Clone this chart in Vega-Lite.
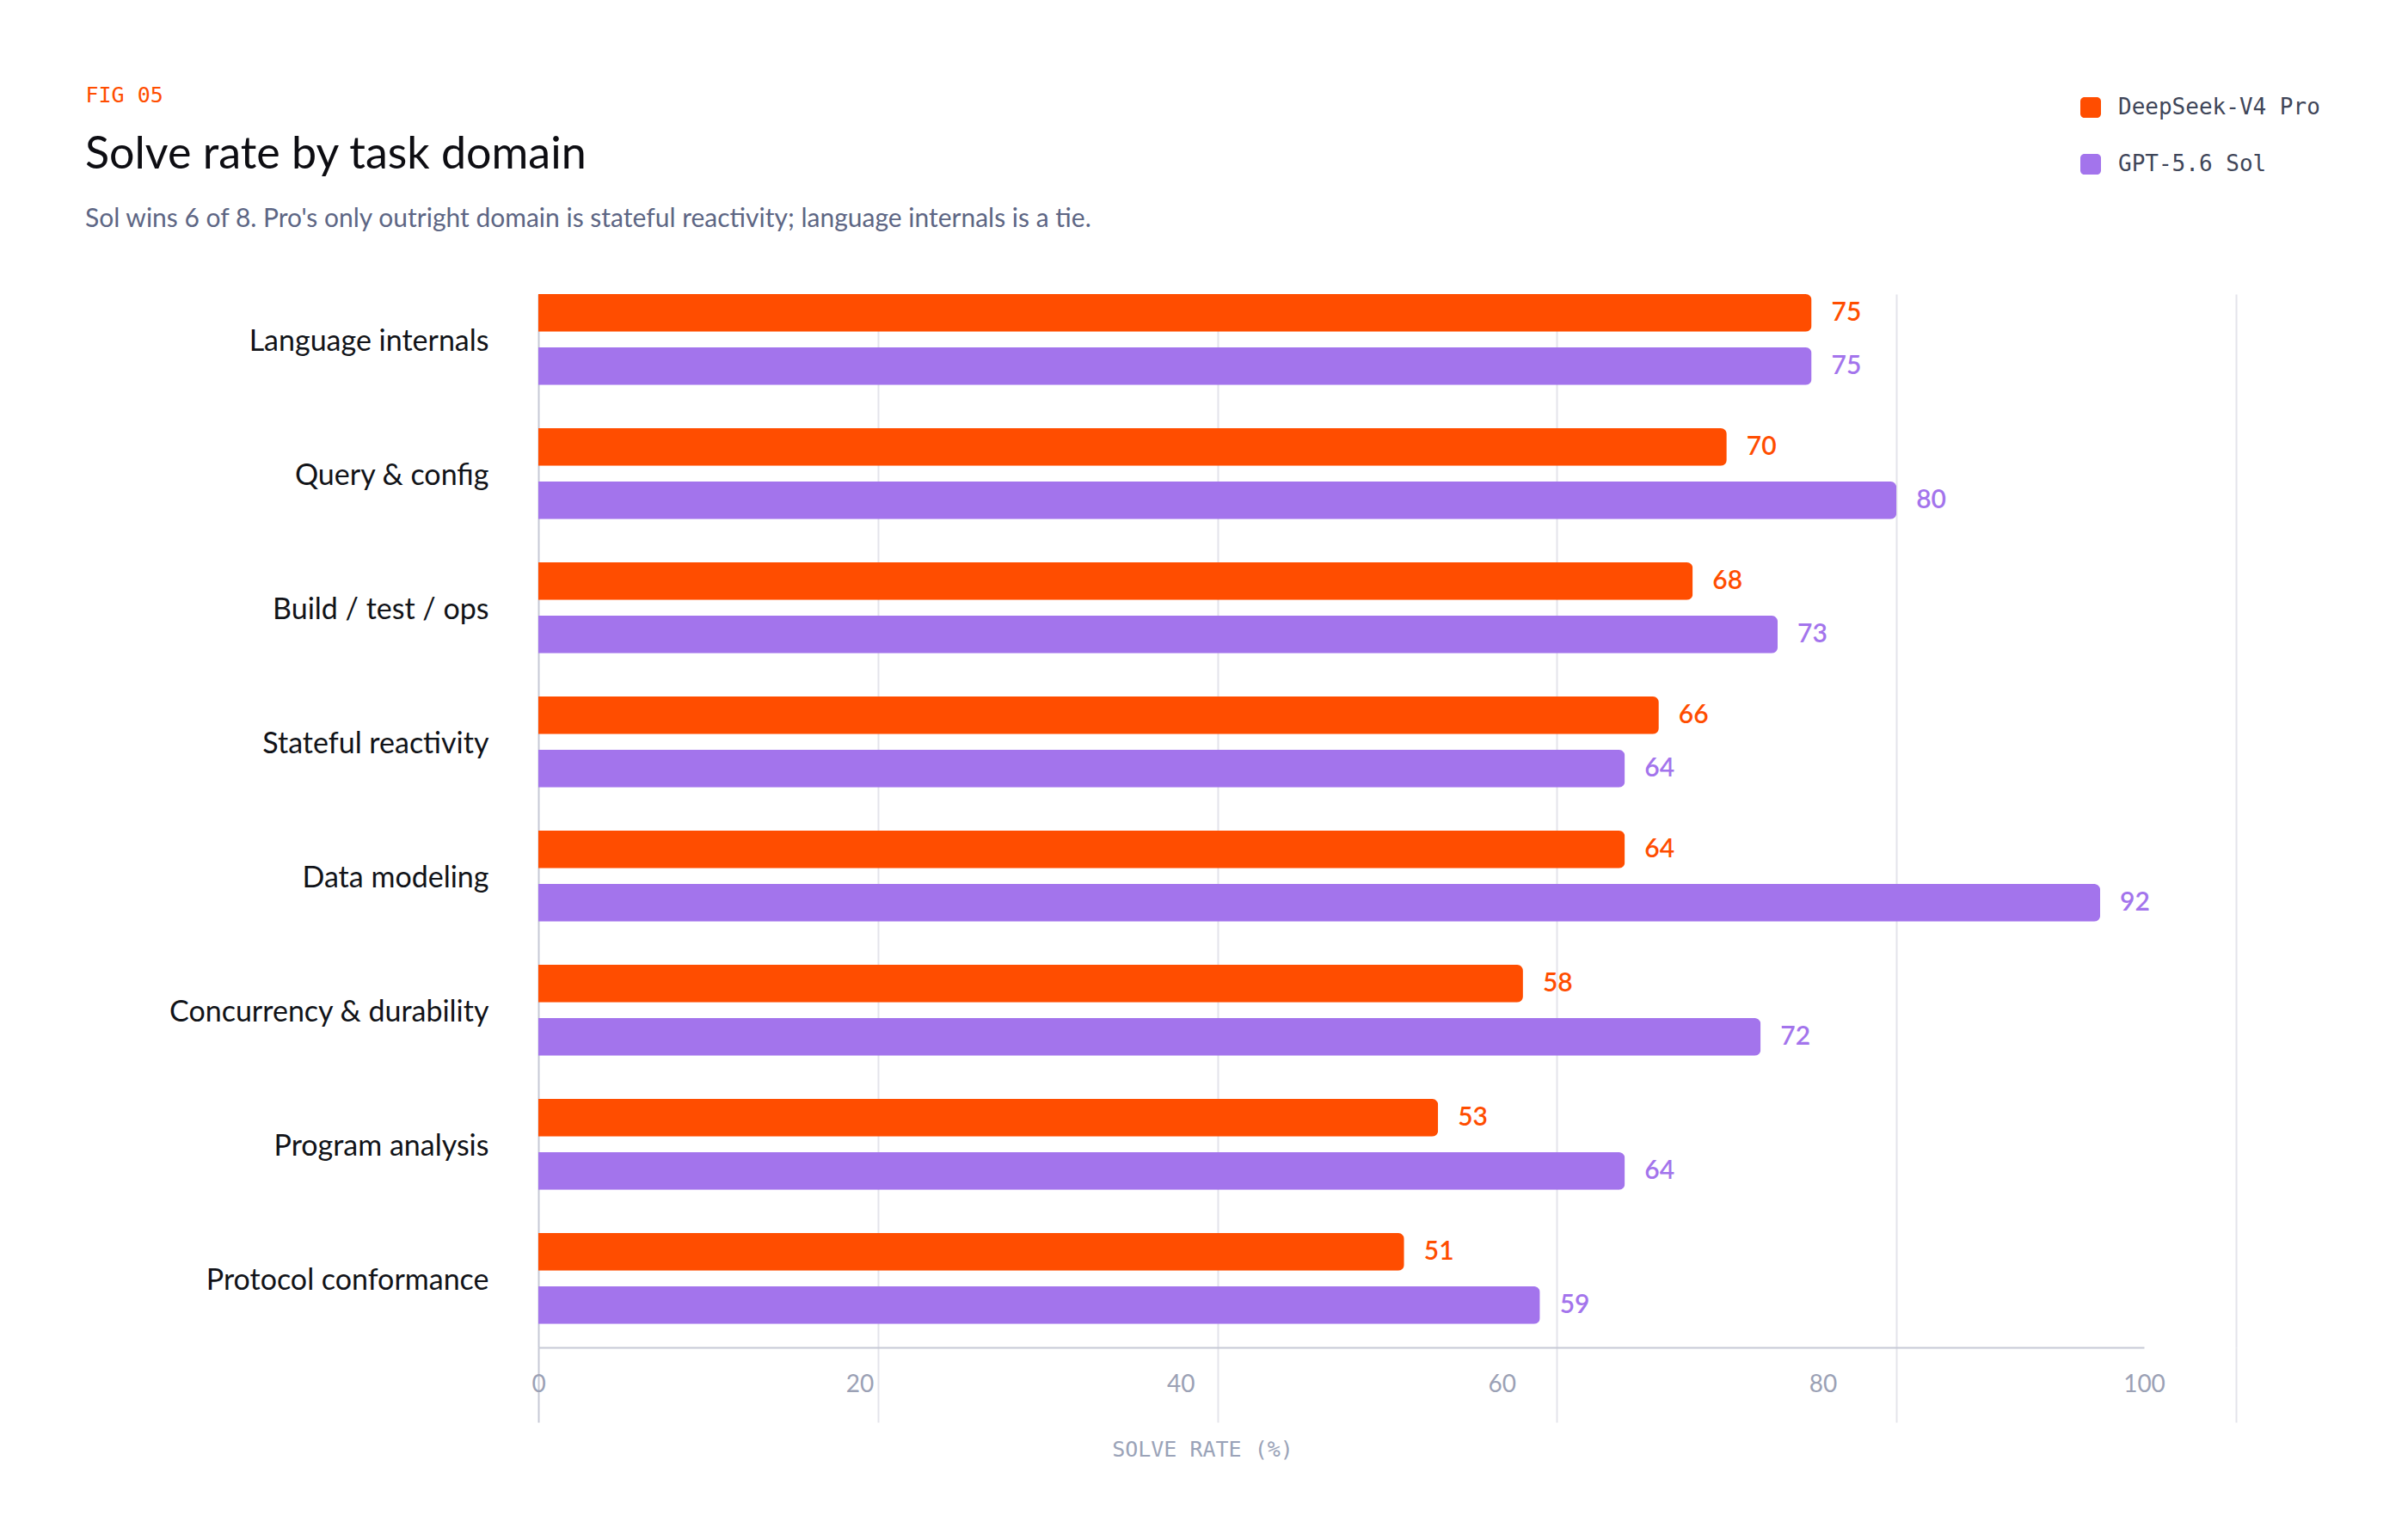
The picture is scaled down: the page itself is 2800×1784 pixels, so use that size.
{
  "$schema": "https://vega.github.io/schema/vega-lite/v6.json",
  "width": 1974,
  "height": 1225,
  "autosize": {"type": "none"},
  "padding": {"left": 626, "top": 342, "right": 200, "bottom": 217},
  "background": "#ffffff",
  "title": {
    "text": "Solve rate by task domain",
    "subtitle": "Sol wins 6 of 8. Pro's only outright domain is stateful reactivity; language internals is a tie.",
    "anchor": "start",
    "frame": "bounds",
    "orient": "top",
    "offset": -173,
    "font": "Lato",
    "fontSize": 52,
    "fontWeight": "normal",
    "color": "#0d0d12",
    "subtitleFont": "Lato",
    "subtitleFontSize": 30,
    "subtitleColor": "#5d6684",
    "subtitlePadding": 33
  },
  "datasets": {
    "main": [
      {"domain": "Language internals", "model": "DeepSeek-V4 Pro", "rate": 75},
      {"domain": "Language internals", "model": "GPT-5.6 Sol", "rate": 75},
      {"domain": "Query & config", "model": "DeepSeek-V4 Pro", "rate": 70},
      {"domain": "Query & config", "model": "GPT-5.6 Sol", "rate": 80},
      {"domain": "Build / test / ops", "model": "DeepSeek-V4 Pro", "rate": 68},
      {"domain": "Build / test / ops", "model": "GPT-5.6 Sol", "rate": 73},
      {"domain": "Stateful reactivity", "model": "DeepSeek-V4 Pro", "rate": 66},
      {"domain": "Stateful reactivity", "model": "GPT-5.6 Sol", "rate": 64},
      {"domain": "Data modeling", "model": "DeepSeek-V4 Pro", "rate": 64},
      {"domain": "Data modeling", "model": "GPT-5.6 Sol", "rate": 92},
      {"domain": "Concurrency & durability", "model": "DeepSeek-V4 Pro", "rate": 58},
      {"domain": "Concurrency & durability", "model": "GPT-5.6 Sol", "rate": 72},
      {"domain": "Program analysis", "model": "DeepSeek-V4 Pro", "rate": 53},
      {"domain": "Program analysis", "model": "GPT-5.6 Sol", "rate": 64},
      {"domain": "Protocol conformance", "model": "DeepSeek-V4 Pro", "rate": 51},
      {"domain": "Protocol conformance", "model": "GPT-5.6 Sol", "rate": 59}
    ]
  },
  "data": {"name": "main"},
  "resolve": {"scale": {"x": "independent"}, "axis": {"x": "independent"}},
  "layer": [
    {
      "encoding": {
        "y": {
          "field": "domain",
          "type": "nominal",
          "sort": null,
          "scale": {
            "domain": [
              "Language internals",
              "Query & config",
              "Build / test / ops",
              "Stateful reactivity",
              "Data modeling",
              "Concurrency & durability",
              "Program analysis",
              "Protocol conformance"
            ],
            "paddingInner": 0.3224,
            "paddingOuter": 0.0875,
            "align": 0,
            "round": false
          },
          "axis": {
            "title": "FIG 05",
            "titleAngle": 0,
            "titleX": -527,
            "titleY": -224,
            "titleAlign": "left",
            "titleBaseline": "alphabetic",
            "titleFont": "DejaVu Sans Mono",
            "titleFontSize": 25,
            "titleFontWeight": "normal",
            "titleColor": "#ff4d00",
            "domain": false,
            "ticks": false,
            "tickSize": 0,
            "grid": false,
            "labelPadding": 58,
            "labelOffset": 3,
            "labelFont": "Lato",
            "labelFontSize": 34,
            "labelColor": "#111318",
            "labelLimit": 600
          }
        },
        "yOffset": {
          "field": "model",
          "type": "nominal",
          "sort": ["DeepSeek-V4 Pro", "GPT-5.6 Sol"],
          "scale": {"paddingInner": 0.295, "paddingOuter": 0, "round": false}
        },
        "x": {
          "field": "rate",
          "type": "quantitative",
          "scale": {"domain": [0, 100], "nice": false, "zero": true},
          "axis": {
            "orient": "bottom",
            "values": [0, 20, 40, 60, 80, 100],
            "title": null,
            "labels": false,
            "domain": false,
            "grid": true,
            "gridWidth": 2,
            "gridColor": {"condition": {"test": "datum.value === 0", "value": "#c6c9d5"}, "value": "#e4e4eb"},
            "ticks": true,
            "tickSize": 87,
            "tickWidth": 2,
            "tickColor": {"condition": {"test": "datum.value === 0", "value": "#c6c9d5"}, "value": "#e4e4eb"}
          }
        },
        "color": {
          "field": "model",
          "type": "nominal",
          "scale": {"domain": ["DeepSeek-V4 Pro", "GPT-5.6 Sol"], "range": ["#ff4d00", "#a374ec"]},
          "legend": {
            "title": null,
            "orient": "none",
            "legendX": 1792,
            "legendY": -230,
            "direction": "vertical",
            "padding": 0,
            "symbolType": "M-0.6,-1H0.6A0.4,0.4 0 0 1 1,-0.6V0.6A0.4,0.4 0 0 1 0.6,1H-0.6A0.4,0.4 0 0 1 -1,0.6V-0.6A0.4,0.4 0 0 1 -0.6,-1Z",
            "symbolSize": 576,
            "symbolStrokeWidth": 0,
            "symbolOpacity": 1,
            "labelFont": "DejaVu Sans Mono",
            "labelFontSize": 26,
            "labelColor": "#3f4659",
            "labelOffset": 19,
            "labelLimit": 500,
            "rowPadding": 40
          }
        }
      },
      "layer": [
        {
          "mark": {"type": "bar", "cornerRadiusEnd": 7, "opacity": 1}
        },
        {
          "mark": {"type": "text", "align": "left", "baseline": "middle", "dx": 23, "font": "Lato", "fontSize": 30, "fontWeight": 600},
          "encoding": {"text": {"field": "rate", "type": "quantitative"}}
        }
      ]
    },
    {
      "mark": {"type": "point", "opacity": 0},
      "encoding": {
        "x": {
          "field": "rate",
          "type": "quantitative",
          "scale": {"domain": [0, 100], "nice": false, "zero": true, "rangeMax": 1867},
          "axis": {
            "orient": "bottom",
            "values": [0, 20, 40, 60, 80, 100],
            "title": "SOLVE RATE (%)",
            "titleFont": "DejaVu Sans Mono",
            "titleFontSize": 25,
            "titleFontWeight": "normal",
            "titleColor": "#9aa3b8",
            "titleX": 772,
            "titleY": 118,
            "titleAlign": "center",
            "titleBaseline": "middle",
            "grid": false,
            "ticks": false,
            "tickSize": 0,
            "domain": true,
            "domainColor": "#c6c9d5",
            "domainWidth": 2,
            "labelFont": "Lato",
            "labelFontSize": 28,
            "labelColor": "#9ba1b5",
            "labelPadding": 43,
            "labelBaseline": "middle",
            "labelFlush": false
          }
        }
      }
    }
  ],
  "config": {
    "view": {"stroke": null},
    "font": "Lato"
  }
}
